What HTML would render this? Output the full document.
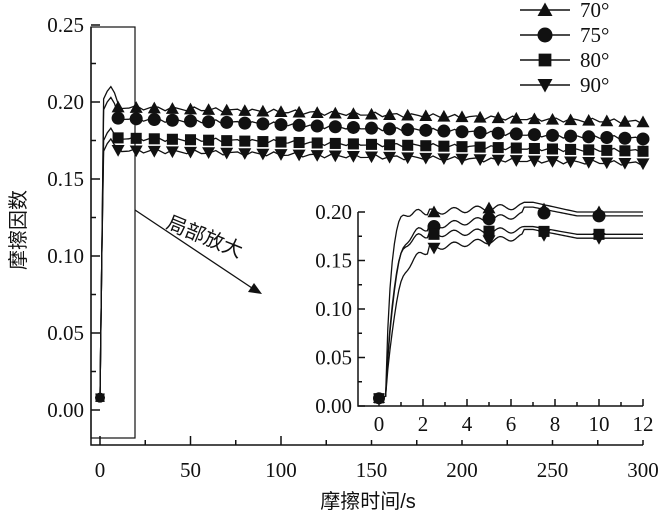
<!DOCTYPE html>
<html><head><meta charset="utf-8"><style>
body{margin:0;background:#fff}
svg{display:block}
text{font-family:"Liberation Serif","Noto Serif CJK SC",serif;font-size:21px;fill:#111}
.cj{font-family:"Liberation Sans","Noto Sans CJK SC",sans-serif;font-size:20px}
</style></head><body>
<svg id="s" width="658" height="520" viewBox="0 0 658 520" xmlns="http://www.w3.org/2000/svg"></svg>
<script>
const s=document.getElementById('s');let h='';
const X=t=>100+1.81*t, Y=v=>410-v*1540;
const IX=t=>379+22*t, IY=v=>406-v*970;
function mk(type,x,y,r){r=r||6.5;
 if(type==0)return `<polygon points="${x},${y-r} ${x-r},${y+r*0.8} ${x+r},${y+r*0.8}"/>`;
 if(type==1)return `<circle cx="${x}" cy="${y}" r="${r}"/>`;
 if(type==2)return `<rect x="${x-r*0.85}" y="${y-r*0.85}" width="${r*1.7}" height="${r*1.7}"/>`;
 return `<polygon points="${x},${y+r} ${x-r},${y-r*0.8} ${x+r},${y-r*0.8}"/>`;}
h+=`<g stroke="#111" stroke-width="1.5" fill="none"><path d="M91,27V445H643"/>`;
for(let i=0;i<=10;i++){let y=Y(i*0.025);h+=`<path d="M91,${y}h${i%2?5:9}"/>`}
for(let i=0;i<=12;i++){let x=X(i*25);h+=`<path d="M${x},445v${i%2?-5:-9}"/>`}
h+=`<rect x="91" y="27" width="44" height="411" stroke-width="1.2"/></g>`;
['0.00','0.05','0.10','0.15','0.20','0.25'].forEach((l,i)=>h+=`<text x="84" y="${Y(i*0.05)+7}" text-anchor="end">${l}</text>`);
[0,50,100,150,200,250,300].forEach(v=>h+=`<text x="${X(v)}" y="477" text-anchor="middle">${v}</text>`);
h+=`<text x="368" y="508" text-anchor="middle" class="cj">摩擦时间/s</text>`;
h+=`<text transform="translate(25,230) rotate(-90)" text-anchor="middle" class="cj">摩擦因数</text>`;
const S=[[0.197,0.187,0.21],[0.19,0.176,0.203],[0.177,0.168,0.183],[0.169,0.16,0.176]];
S.forEach((p,k)=>{
 let d=`M${X(0)},${Y(0.008)}L${X(1)},${Y(0.1)}L${X(2)},${Y(p[2]-0.008)}L${X(4)},${Y(p[2]-0.003)}L${X(6)},${Y(p[2])}L${X(8)},${Y(p[2]-0.004)}L${X(10)},${Y(p[0]+0.002)}`;
 for(let t=12;t<=300;t+=4)d+=`L${X(t)},${Y(p[0]-(p[0]-p[1])*t/300+0.0015*Math.sin(t))}`;
 h+=`<path d="${d}" stroke="#111" stroke-width="1.3" fill="none"/>`;
 h+=`<g fill="#111">`+mk(k,X(0),Y(0.008),5);
 for(let t=10;t<=300;t+=10)h+=mk(k,X(t),Y(p[0]-(p[0]-p[1])*t/300));
 h+=`</g>`;
});
h+=`<path d="M135,210L255,290" stroke="#111" stroke-width="1.3"/><polygon points="262,294 248,292 254,283" fill="#111"/>`;
h+=`<text transform="translate(165,228) rotate(22)" class="cj">局部放大</text>`;
h+=`<rect x="300" y="195" width="350" height="245" fill="#fff"/>`;
h+=`<g stroke="#111" stroke-width="1.5" fill="none"><path d="M358,212V406H643"/>`;
for(let i=0;i<=8;i++)h+=`<path d="M358,${IY(i*0.025)}h${i%2?4:7}"/>`;
for(let i=0;i<=12;i++)h+=`<path d="M${IX(i)},406v${i%2?-4:-7}"/>`;
h+=`</g>`;
['0.00','0.05','0.10','0.15','0.20'].forEach((l,i)=>h+=`<text x="352" y="${IY(i*0.05)+7}" text-anchor="end">${l}</text>`);
[0,2,4,6,8,10,12].forEach(v=>h+=`<text x="${IX(v)}" y="431" text-anchor="middle">${v}</text>`);
// [plateau at t2, level mid, peak, final, rise time constant]
const I=[[0.2,0.205,0.21,0.2,0.22],[0.185,0.19,0.205,0.196,0.4],[0.177,0.178,0.185,0.177,0.35],[0.163,0.168,0.182,0.173,0.5]];
I.forEach((p,k)=>{
 let d=`M${IX(0)},${IY(0.008)}L${IX(0.3)},${IY(0.01)}`;
 for(let t=0.4;t<=12.01;t+=0.1){let v;
  if(t<2.3)v=(0.01+(p[0]-0.01)*(1-Math.exp(-(t-0.3)/p[4])))+0.003*Math.sin(t*8);
  else if(t<6.5)v=p[0]+(p[2]-p[0])*(t-2.3)/4.2*0.6+0.003*Math.sin(t*6);
  else if(t<7)v=p[2];
  else v=p[3]+(p[2]-p[3])*Math.max(0,(9-t)/2);
  d+=`L${IX(t)},${IY(v)}`}
 h+=`<path d="${d}" stroke="#111" stroke-width="1.3" fill="none"/>`;
 h+=`<g fill="#111">`+mk(k,IX(0),IY(0.008),6);
 [2.5,5,7.5,10].forEach(t=>{let v=t<3?p[0]:t<6?p[0]+(p[2]-p[0])*0.4:p[3]+(t<9?0.003:0);h+=mk(k,IX(t),IY(v))});
 h+=`</g>`;
});
['70°','75°','80°','90°'].forEach((l,k)=>{let y=10+25*k;
 h+=`<path d="M520,${y}H570" stroke="#111" stroke-width="1.5"/><g fill="#111">${mk(k,545,y,7.5)}</g><text x="580" y="${y+7}">${l}</text>`});
s.innerHTML=h;
</script>
</body></html>
